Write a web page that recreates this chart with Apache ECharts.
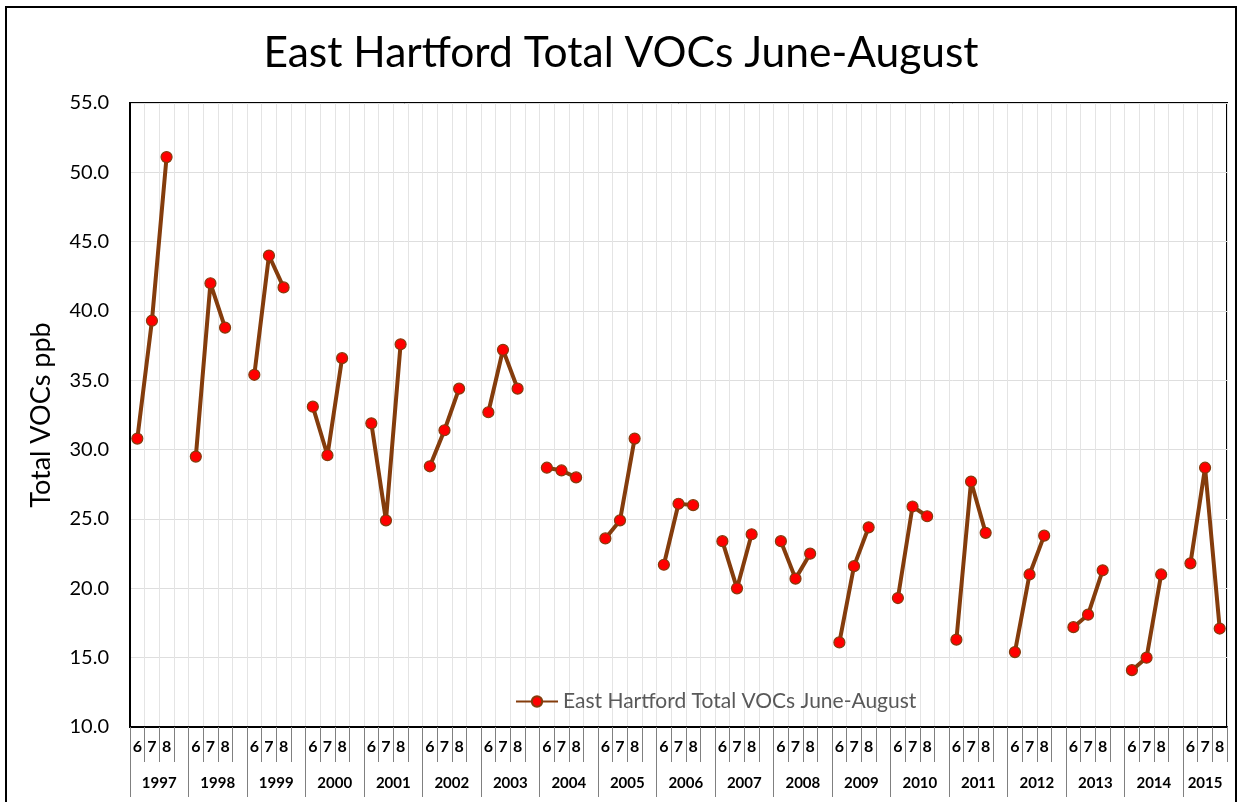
<!DOCTYPE html>
<html>
<head>
<meta charset="utf-8">
<script src="https://cdn.jsdelivr.net/npm/echarts@6/dist/echarts.min.js"></script>
<style>
  body { margin: 0; background: #fff; }
  #chart { position: absolute; left: 0; top: 0; width: 1242px; height: 802px; }
  #frame { position: absolute; left: 5px; top: 6px; width: 1228px; height: 820px; border: 2px solid #000; pointer-events: none; }
</style>
</head>
<body>
<div id="chart"></div>
<div id="frame"></div>
<script>
var years = ['1997', '1998', '1999', '2000', '2001', '2002', '2003', '2004', '2005', '2006',
             '2007', '2008', '2009', '2010', '2011', '2012', '2013', '2014', '2015'];
var months = ['6', '7', '8'];
var june   = [30.8, 29.5, 35.4, 33.1, 31.9, 28.8, 32.7, 28.7, 23.6, 21.7, 23.4, 23.4, 16.1, 19.3, 16.3, 15.4, 17.2, 14.1, 21.8];
var july   = [39.3, 42.0, 44.0, 29.6, 24.9, 31.4, 37.2, 28.5, 24.9, 26.1, 20.0, 20.7, 21.6, 25.9, 27.7, 21.0, 18.1, 15.0, 28.7];
var august = [51.1, 38.8, 41.7, 36.6, 37.6, 34.4, 34.4, 28.0, 30.8, 26.0, 23.9, 22.5, 24.4, 25.2, 24.0, 23.8, 21.3, 21.0, 17.1];
var yTicks = ['10.0', '15.0', '20.0', '25.0', '30.0', '35.0', '40.0', '45.0', '50.0', '55.0'];

var seriesName = 'East Hartford Total VOCs June-August';
var fontFamily = 'Lato';

// build the category list: 6,7,8 and a blank gap after each year (not after the last)
var categories = [];
var values = [];
var yearTickPos = [];
var yearLabelPos = [];
years.forEach(function (y, i) {
    var start = categories.length;
    yearTickPos.push(start);
    categories.push(months[0], months[1], months[2]);
    values.push(june[i], july[i], august[i]);
    if (i < years.length - 1) {
        categories.push('');
        values.push(null);
        yearLabelPos.push(start + 2);
    } else {
        yearLabelPos.push(start + 1.5);
    }
});
var slotCount = categories.length;

var chart = echarts.init(document.getElementById('chart'));
var option = {
    backgroundColor: 'transparent',
    animation: false,
    title: {
        text: 'East Hartford Total VOCs June-August',
        left: 'center',
        top: 27,
        textStyle: {
            fontFamily: fontFamily,
            fontSize: 42.5,
            fontWeight: 'normal',
            color: '#000'
        }
    },
    legend: {
        left: 510,
        top: 686,
        itemWidth: 42,
        itemHeight: 13,
        itemGap: 4,
        textStyle: {
            fontFamily: fontFamily,
            fontSize: 21,
            color: '#595959'
        },
        data: [seriesName]
    },
    grid: {
        left: 130,
        right: 15,
        top: 103,
        bottom: 75,
        show: true,
        borderColor: '#000',
        borderWidth: 2
    },
    xAxis: [{
        type: 'category',
        data: categories,
        boundaryGap: true,
        axisLine: { lineStyle: { color: '#000', width: 2 } },
        axisTick: { show: true, interval: 0, length: 35, lineStyle: { color: '#808080', width: 1 } },
        axisLabel: {
            interval: 0,
            margin: 12,
            fontFamily: fontFamily,
            fontSize: 16,
            fontWeight: 'bold',
            color: '#000'
        },
        splitLine: { show: true, interval: 0, lineStyle: { color: '#e4e4e4', width: 1 } }
    }, {
        type: 'value',
        position: 'bottom',
        min: 0,
        max: slotCount,
        axisLine: { show: false },
        axisTick: { show: true, customValues: yearTickPos, length: 70, lineStyle: { color: '#808080', width: 1 } },
        axisLabel: {
            customValues: yearLabelPos,
            margin: 49,
            fontFamily: fontFamily,
            fontSize: 15,
            fontWeight: 'bold',
            color: '#000',
            formatter: function (v) {
                var idx = yearLabelPos.indexOf(v);
                return idx >= 0 ? years[idx] : '';
            }
        },
        splitLine: { show: false }
    }],
    yAxis: {
        type: 'value',
        min: 10,
        max: 55,
        interval: 5,
        name: 'Total VOCs ppb',
        nameLocation: 'middle',
        nameGap: 75,
        nameTextStyle: { fontFamily: fontFamily, fontSize: 27, color: '#000' },
        axisLine: { show: true, lineStyle: { color: '#000', width: 2 } },
        axisTick: { show: false },
        axisLabel: {
            margin: 21,
            fontFamily: fontFamily,
            fontSize: 20,
            color: '#000',
            formatter: function (v) { return yTicks[(v - 10) / 5]; }
        },
        splitLine: { show: true, lineStyle: { color: '#dedede', width: 1 } }
    },
    series: [{
        name: seriesName,
        type: 'line',
        xAxisIndex: 0,
        data: values,
        connectNulls: false,
        symbol: 'circle',
        symbolSize: 11,
        lineStyle: { color: '#843c0c', width: 4 },
        itemStyle: { color: '#ff0000', borderColor: '#843c0c', borderWidth: 1.2 }
    }]
};
chart.setOption(option);
</script>
</body>
</html>
